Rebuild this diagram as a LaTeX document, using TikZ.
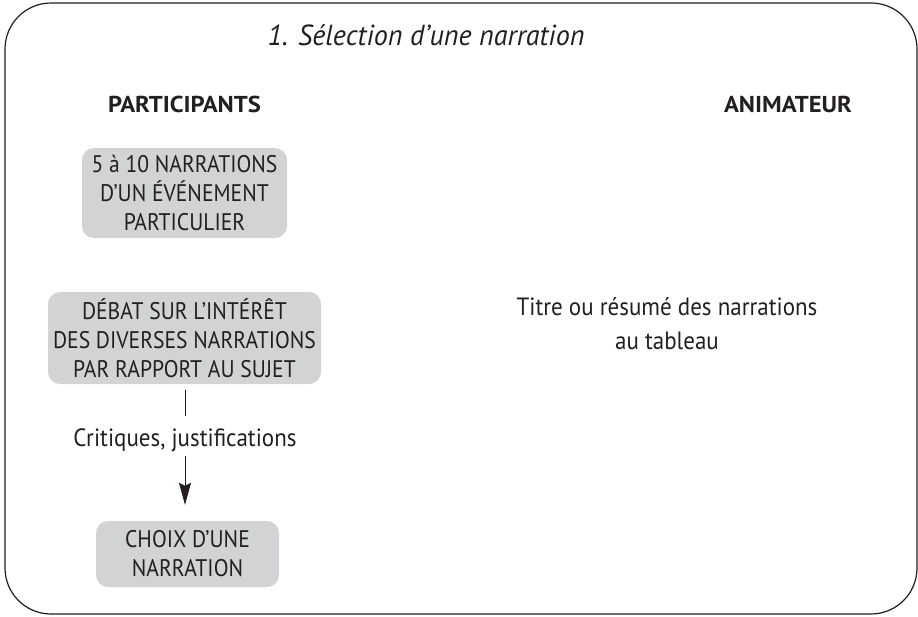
\documentclass[tikz,border=0pt]{standalone}
\usepackage{fontspec}
\setmainfont{PT Sans}
\usetikzlibrary{arrows.meta}
\definecolor{boxgray}{HTML}{D1D3D4}
\definecolor{ink}{HTML}{231F20}
\begin{document}
\begin{tikzpicture}[x=1pt,y=-1pt,
  txt/.style={text=ink, font=\fontsize{24}{29}\selectfont\addfontfeature{FakeStretch=0.9}, align=center, inner sep=0pt},
  lowtxt/.style={txt, font=\fontsize{25}{34}\selectfont\addfontfeature{FakeStretch=0.92}},
  grbox/.style={txt, fill=boxgray, rounded corners=12pt},
  head/.style={text=ink, font=\fontsize{23}{25}\selectfont\bfseries\addfontfeature{FakeStretch=1.07}, inner sep=0pt, anchor=base},
  ttl/.style={text=ink, font=\fontsize{29}{30}\selectfont\itshape\addfontfeature{FakeStretch=0.97}, inner sep=0pt, anchor=base},
  conn/.style={draw=ink, line width=0.8pt}
]
\useasboundingbox (0,0) rectangle (918,616);
\draw[draw=ink, line width=1.2pt, rounded corners=46pt] (5,3) rectangle (917,614);

\node[ttl] (title) at (426,45) {1. Sélection d’une narration};
\node[head] (part) at (184.5,112) {PARTICIPANTS};
\node[head] (anim) at (788,112) {ANIMATEUR};

\node[grbox, minimum width=205pt, minimum height=90pt] (b1) at (184.5,193)
  {5 à 10 NARRATIONS\\D’UN ÉVÉNEMENT\\PARTICULIER};
\node[grbox, minimum width=273pt, minimum height=92pt] (b2) at (184.5,338)
  {DÉBAT SUR L’INTÉRÊT\\DES DIVERSES NARRATIONS\\PAR RAPPORT AU SUJET};
\node[grbox, minimum width=183pt, minimum height=66pt] (b3) at (187.5,554)
  {CHOIX D’UNE\\NARRATION};

\node[lowtxt] (lab) at (185,440) {Critiques, justifications};
\node[lowtxt] (tab) at (667,324) {Titre ou résumé des narrations\\au tableau};

\draw[conn, shorten <=6pt, shorten >=12pt] (b2.south -| lab.north) -- (lab.north);
\draw[conn, -{Stealth[length=22pt,width=12pt,inset=3pt]}, shorten <=4pt, shorten >=16pt] (lab.south) -- (lab.south |- b3.north);
\end{tikzpicture}
\end{document}
